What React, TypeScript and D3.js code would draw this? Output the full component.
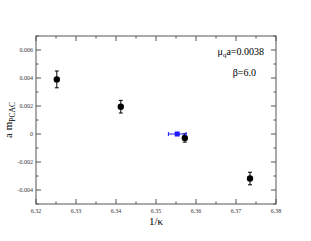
import { useEffect, useRef } from "react";
import * as d3 from "d3";

// measured points: 1/kappa, a*m_PCAC, error
const KAPPA_INV = [6.3252, 6.3412, 6.3572, 6.3735];
const M_PCAC = [0.0039, 0.00195, -0.00028, -0.00318];
const M_ERR = [0.0006, 0.00045, 0.0003, 0.00045];

// extrapolated critical point (blue square) with horizontal error
const CRIT_X = [6.3553];
const CRIT_Y = [0.0];
const CRIT_XERR = [0.0022];

const X_TICKS = [6.32, 6.33, 6.34, 6.35, 6.36, 6.37, 6.38];
const Y_TICKS = [-0.004, -0.002, 0, 0.002, 0.004, 0.006];

const W = 311;
const H = 241;
const M = { top: 36, right: 35, bottom: 37, left: 36 };
const FONT = "'Liberation Serif', 'DejaVu Serif', serif";
const AXIS = "#555";

export default function App() {
  const svgRef = useRef<SVGSVGElement | null>(null);

  useEffect(() => {
    const svg = d3.select(svgRef.current);
    svg.selectAll("*").remove();

    const x = d3.scaleLinear().domain([6.32, 6.38]).range([M.left, W - M.right]);
    const y = d3.scaleLinear().domain([-0.005, 0.007]).range([H - M.bottom, M.top]);
    const [x0, x1] = x.range();
    const [y0, y1] = y.range();

    // frame
    svg
      .append("rect")
      .attr("x", x0)
      .attr("y", y1)
      .attr("width", x1 - x0)
      .attr("height", y0 - y1)
      .attr("fill", "none")
      .attr("stroke", AXIS)
      .attr("stroke-width", 1);

    // ticks, all pointing inward
    const xMinor = d3.range(6.32, 6.3801, 0.005);
    const yMinor = d3.range(-0.005, 0.00701, 0.001);
    const tk = svg.append("g").attr("stroke", AXIS).attr("stroke-width", 1);
    xMinor.forEach((v, i) => {
      const len = i % 2 === 0 ? 5 : 2.5;
      const px = x(v);
      tk.append("line").attr("x1", px).attr("x2", px).attr("y1", y0).attr("y2", y0 - len);
      tk.append("line").attr("x1", px).attr("x2", px).attr("y1", y1).attr("y2", y1 + len);
    });
    yMinor.forEach((v, i) => {
      const len = i % 2 === 1 ? 5 : 2.5;
      const py = y(v);
      tk.append("line").attr("x1", x0).attr("x2", x0 + len).attr("y1", py).attr("y2", py);
      tk.append("line").attr("x1", x1).attr("x2", x1 - len).attr("y1", py).attr("y2", py);
    });

    // tick labels
    svg
      .append("g")
      .selectAll("text")
      .data(X_TICKS)
      .join("text")
      .attr("x", (d) => x(d))
      .attr("y", y0 + 9)
      .attr("text-anchor", "middle")
      .attr("font-family", FONT)
      .attr("font-size", 6)
      .attr("fill", "#333")
      .text((d) => d.toFixed(2));
    svg
      .append("g")
      .selectAll("text")
      .data(Y_TICKS)
      .join("text")
      .attr("x", x0 - 3)
      .attr("y", (d) => y(d))
      .attr("dy", "0.32em")
      .attr("text-anchor", "end")
      .attr("font-family", FONT)
      .attr("font-size", 6)
      .attr("fill", "#333")
      .text((d) => (d === 0 ? "0" : d.toFixed(3)));

    // axis titles
    svg
      .append("text")
      .attr("x", (x0 + x1) / 2)
      .attr("y", y0 + 21)
      .attr("text-anchor", "middle")
      .attr("font-family", FONT)
      .attr("font-size", 11)
      .attr("fill", "#000")
      .text("1/κ");
    const yl = svg
      .append("text")
      .attr("transform", `translate(12, ${(y0 + y1) / 2}) rotate(-90)`)
      .attr("text-anchor", "middle")
      .attr("font-family", FONT)
      .attr("font-size", 11)
      .attr("fill", "#000");
    yl.append("tspan").text("a m");
    yl.append("tspan").attr("dy", 3).attr("font-size", 7.5).text("PCAC");

    // annotation
    const ann = svg
      .append("text")
      .attr("x", 264)
      .attr("y", 55)
      .attr("text-anchor", "end")
      .attr("font-family", FONT)
      .attr("font-size", 10)
      .attr("fill", "#000");
    ann.append("tspan").text("μ");
    ann.append("tspan").attr("dy", 2).attr("font-size", 7).text("q");
    ann.append("tspan").attr("dy", -2).text("a=0.0038");
    svg
      .append("text")
      .attr("x", 256)
      .attr("y", 76)
      .attr("text-anchor", "end")
      .attr("font-family", FONT)
      .attr("font-size", 10)
      .attr("fill", "#000")
      .text("β=6.0");

    // black data with vertical error bars
    const pts = KAPPA_INV.map((k, i) => ({ k, m: M_PCAC[i], e: M_ERR[i] }));
    const eb = svg.append("g").attr("stroke", "#000").attr("stroke-width", 1);
    pts.forEach((p) => {
      const px = x(p.k);
      eb.append("line").attr("x1", px).attr("x2", px).attr("y1", y(p.m - p.e)).attr("y2", y(p.m + p.e));
      [p.m - p.e, p.m + p.e].forEach((v) =>
        eb.append("line").attr("x1", px - 2).attr("x2", px + 2).attr("y1", y(v)).attr("y2", y(v))
      );
    });
    svg
      .append("g")
      .selectAll("circle")
      .data(pts)
      .join("circle")
      .attr("cx", (d) => x(d.k))
      .attr("cy", (d) => y(d.m))
      .attr("r", 3.2)
      .attr("fill", "#000");

    // blue critical point with horizontal error
    const crit = CRIT_X.map((c, i) => ({ c, m: CRIT_Y[i], e: CRIT_XERR[i] }));
    const cb = svg.append("g").attr("stroke", "#1a1aff").attr("stroke-width", 1);
    crit.forEach((p) => {
      const py = y(p.m);
      cb.append("line").attr("x1", x(p.c - p.e)).attr("x2", x(p.c + p.e)).attr("y1", py).attr("y2", py);
      [p.c - p.e, p.c + p.e].forEach((v) =>
        cb.append("line").attr("x1", x(v)).attr("x2", x(v)).attr("y1", py - 2).attr("y2", py + 2)
      );
    });
    svg
      .append("g")
      .selectAll("rect.crit")
      .data(crit)
      .join("rect")
      .attr("class", "crit")
      .attr("x", (d) => x(d.c) - 2.5)
      .attr("y", (d) => y(d.m) - 2.5)
      .attr("width", 5)
      .attr("height", 5)
      .attr("fill", "#1a1aff");
  }, []);

  return (
    <svg
      ref={svgRef}
      width={W}
      height={H}
      style={{ position: "absolute", left: 0, top: 0, background: "#fff" }}
    />
  );
}
